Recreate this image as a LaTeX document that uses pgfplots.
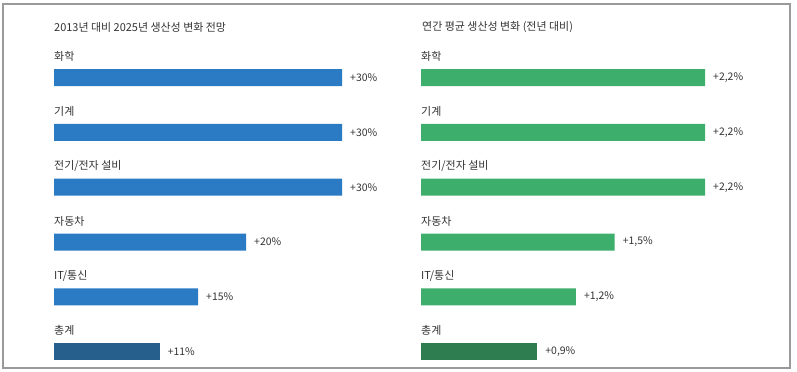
\documentclass[border=0pt]{standalone}
\usepackage{pgfplots}
\pgfplotsset{compat=1.18}
\usepackage{fontspec}
\setmainfont{Noto Sans CJK KR}
\definecolor{blueA}{HTML}{2B7BC4}
\definecolor{blueB}{HTML}{265E8C}
\definecolor{greenA}{HTML}{3DAE6B}
\definecolor{greenB}{HTML}{2E7D50}
\definecolor{txt}{HTML}{333333}
\definecolor{frame}{HTML}{9A9A9A}
\tikzset{
  catlabel/.style={anchor=west, inner sep=0pt, yshift=21bp, text=txt, font=\fontsize{11}{12}\selectfont},
}
\pgfplotsset{
  panel/.style={
    anchor=north west, scale only axis, height=329bp,
    ymin=-0.5, ymax=5.5, y dir=reverse, axis lines=none, xbar, bar width=17bp,
    clip=false, xmin=0,
    point meta=explicit symbolic,
    nodes near coords,
    every node near coord/.append style={anchor=west, xshift=8bp, inner sep=0pt,
      font=\fontsize{10.5}{12}\selectfont, text=txt},
  },
}
\begin{document}
\begin{tikzpicture}[x=1bp,y=1bp]
\useasboundingbox (0,0) rectangle (797,371);
\draw[frame, line width=1.2bp] (3,3) rectangle (790,367);
\node[anchor=west, inner sep=0pt, text=txt, font=\fontsize{11}{12}\selectfont] at (54,343.5) {2013년 대비 2025년 생산성 변화 전망};
\node[anchor=west, inner sep=0pt, text=txt, font=\fontsize{11}{12}\selectfont] at (422,343.5) {연간 평균 생산성 변화 (전년 대비)};

\begin{axis}[panel, at={(54bp,320.9bp)}, width=288bp, xmax=30]
\addplot[fill=blueA, draw=none, bar shift=0pt] coordinates {
  (30,0) [+30\%]
  (30,1) [+30\%]
  (30,2) [+30\%]
  (20,3) [+20\%]
  (15,4) [+15\%]
};
\addplot[fill=blueB, draw=none, bar shift=0pt] coordinates {
  (11,5) [+11\%]
};
\node[catlabel] at (axis cs:0,0) {화학};
\node[catlabel] at (axis cs:0,1) {기계};
\node[catlabel] at (axis cs:0,2) {전기/전자 설비};
\node[catlabel] at (axis cs:0,3) {자동차};
\node[catlabel] at (axis cs:0,4) {IT/통신};
\node[catlabel] at (axis cs:0,5) {총계};
\end{axis}

\begin{axis}[panel, at={(421bp,320.9bp)}, width=284bp, xmax=2.2]
\addplot[fill=greenA, draw=none, bar shift=0pt] coordinates {
  (2.2,0) [+2{,}2\%]
  (2.2,1) [+2{,}2\%]
  (2.2,2) [+2{,}2\%]
  (1.5,3) [+1{,}5\%]
  (1.2,4) [+1{,}2\%]
};
\addplot[fill=greenB, draw=none, bar shift=0pt] coordinates {
  (0.9,5) [+0{,}9\%]
};
\node[catlabel] at (axis cs:0,0) {화학};
\node[catlabel] at (axis cs:0,1) {기계};
\node[catlabel] at (axis cs:0,2) {전기/전자 설비};
\node[catlabel] at (axis cs:0,3) {자동차};
\node[catlabel] at (axis cs:0,4) {IT/통신};
\node[catlabel] at (axis cs:0,5) {총계};
\end{axis}
\end{tikzpicture}
\end{document}
